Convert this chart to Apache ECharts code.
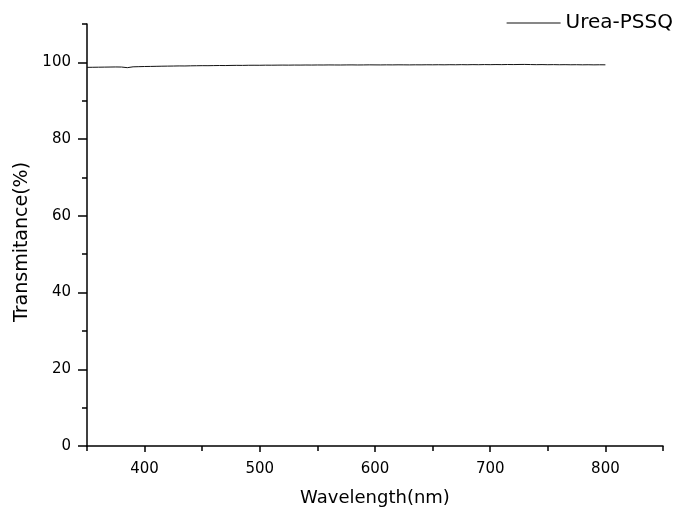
<!DOCTYPE html>
<html>
<head>
<meta charset="utf-8">
<script src="https://cdn.jsdelivr.net/npm/echarts@6/dist/echarts.min.js"></script>
<style>html,body{margin:0;padding:0;background:#fff}#c{width:676px;height:510px}</style>
</head>
<body>
<div id="c"></div>
<script>
const seriesName = 'Urea-PSSQ';
const wavelength = [350,355,360,365,370,375,380,385,390,395,400,405,410,415,420,425,430,435,440,445,450,455,460,465,470,475,480,485,490,495,500,505,510,515,520,525,530,535,540,545,550,555,560,565,570,575,580,585,590,595,600,605,610,615,620,625,630,635,640,645,650,655,660,665,670,675,680,685,690,695,700,705,710,715,720,725,730,735,740,745,750,755,760,765,770,775,780,785,790,795,800];
const transmittance = [98.70,98.72,98.74,98.76,98.78,98.80,98.78,98.62,98.84,98.88,98.92,98.94,98.97,99.00,99.02,99.04,99.07,99.06,99.10,99.12,99.14,99.13,99.16,99.18,99.17,99.20,99.22,99.21,99.24,99.25,99.24,99.27,99.26,99.28,99.29,99.28,99.30,99.29,99.31,99.30,99.32,99.31,99.33,99.32,99.31,99.33,99.34,99.32,99.33,99.35,99.34,99.33,99.35,99.34,99.36,99.35,99.34,99.36,99.35,99.37,99.36,99.38,99.36,99.39,99.37,99.40,99.38,99.41,99.39,99.42,99.40,99.43,99.41,99.44,99.42,99.45,99.46,99.43,99.40,99.42,99.39,99.41,99.38,99.40,99.37,99.39,99.36,99.38,99.35,99.37,99.36];
const xMajorTicks = [400,500,600,700,800];
const xMinorTicks = [350,450,550,650,750,850];
const yMajorTicks = [0,20,40,60,80,100];
const yMinorTicks = [10,30,50,70,90,110];
const xTitle = 'Wavelength(nm)';
const yTitle = 'Transmitance(%)';

const FONT = '"DejaVu Sans", "Liberation Sans", Arial, sans-serif';
const chart = echarts.init(document.getElementById('c'), null, {renderer: 'canvas'});
const axisLine = {show: true, lineStyle: {color: '#000', width: 1.5}};
chart.setOption({
  animation: false,
  backgroundColor: '#fff',
  grid: {left: 87, right: 13, top: 24, bottom: 64, containLabel: false, outerBoundsMode: 'none'},
  legend: {
    right: -2, top: 8,
    icon: 'rect', itemWidth: 54, itemHeight: 1,
    itemGap: 6,
    textStyle: {fontFamily: FONT, fontSize: 20, color: '#000', padding: [0, 0, 0, 0]},
    data: [seriesName]
  },
  xAxis: [{
    type: 'value', min: 350, max: 850,
    axisLine: axisLine,
    axisTick: {show: true, inside: false, length: 6, customValues: xMajorTicks, lineStyle: {color: '#000', width: 1.5}},
    axisLabel: {show: true, customValues: xMajorTicks, margin: 16, fontFamily: FONT, fontSize: 15, color: '#000'},
    splitLine: {show: false},
    name: xTitle, nameLocation: 'middle', nameGap: 43,
    nameTextStyle: {fontFamily: FONT, fontSize: 18, color: '#000'}
  }, {
    type: 'value', min: 350, max: 850, position: 'bottom',
    axisLine: {show: false},
    axisTick: {show: true, inside: false, length: 5, customValues: xMinorTicks, lineStyle: {color: '#000', width: 1.5}},
    axisLabel: {show: false},
    splitLine: {show: false}
  }],
  yAxis: [{
    type: 'value', min: 0, max: 110,
    axisLine: axisLine,
    axisTick: {show: true, inside: false, length: 9, customValues: yMajorTicks, lineStyle: {color: '#000', width: 1.5}},
    axisLabel: {show: true, customValues: yMajorTicks, margin: 16, fontFamily: FONT, fontSize: 15, color: '#000'},
    splitLine: {show: false},
    name: yTitle, nameLocation: 'middle', nameGap: 55, nameRotate: 90,
    nameTextStyle: {fontFamily: FONT, fontSize: 19, color: '#000', padding: [0, 14, 0, 0]}
  }, {
    type: 'value', min: 0, max: 110, position: 'left',
    axisLine: {show: false},
    axisTick: {show: true, inside: false, length: 5, customValues: yMinorTicks, lineStyle: {color: '#000', width: 1.5}},
    axisLabel: {show: false},
    splitLine: {show: false}
  }],
  series: [{
    name: seriesName,
    type: 'line',
    xAxisIndex: 0, yAxisIndex: 0,
    data: wavelength.map((w, i) => [w, transmittance[i]]),
    showSymbol: false, symbol: 'none',
    lineStyle: {color: '#111', width: 1},
    itemStyle: {color: '#111'}
  }]
});
</script>
</body>
</html>
